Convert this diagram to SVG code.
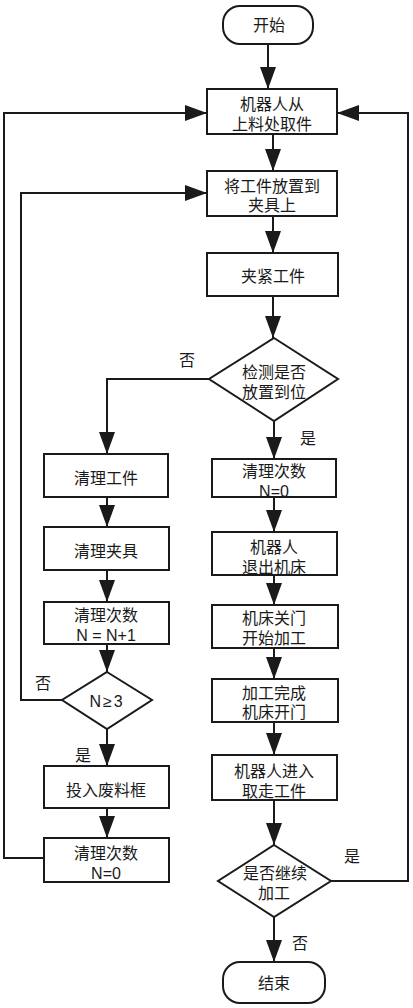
<svg xmlns="http://www.w3.org/2000/svg" width="413" height="1008" viewBox="0 0 413 1008">
<style>
.b{fill:#fff;stroke:#1a1a1a;stroke-width:2}
.c{fill:none;stroke:#1a1a1a;stroke-width:2}
text{font-family:"Liberation Sans","Noto Sans CJK SC",sans-serif;font-size:16px;fill:#1a1a1a;text-anchor:middle;dominant-baseline:central}
</style>
<defs>
<marker id="ah" viewBox="0 0 22 16" refX="22" refY="8" markerWidth="22" markerHeight="16" orient="auto" markerUnits="userSpaceOnUse">
<path d="M0,0 L22,8 L0,16 Z" fill="#1a1a1a"/>
</marker>
</defs>
<g id="connectors">
<path class="c" d="M268,44 V89" marker-end="url(#ah)"/>
<path class="c" d="M273,134 V171" marker-end="url(#ah)"/>
<path class="c" d="M273,216 V253" marker-end="url(#ah)"/>
<path class="c" d="M273,296 V338" marker-end="url(#ah)"/>
<path class="c" d="M209,379 H107 V454" marker-end="url(#ah)"/>
<path class="c" d="M274,421 V459" marker-end="url(#ah)"/>
<path class="c" d="M107,497 V527" marker-end="url(#ah)"/>
<path class="c" d="M107,570 V602" marker-end="url(#ah)"/>
<path class="c" d="M107,644 V672" marker-end="url(#ah)"/>
<path class="c" d="M107,729 V766" marker-end="url(#ah)"/>
<path class="c" d="M107,808 V838" marker-end="url(#ah)"/>
<path class="c" d="M43,858 H4 V113 H207" marker-end="url(#ah)"/>
<path class="c" d="M62,700 H21 V193 H207" marker-end="url(#ah)"/>
<path class="c" d="M274,497 V532" marker-end="url(#ah)"/>
<path class="c" d="M274,575 V605" marker-end="url(#ah)"/>
<path class="c" d="M274,648 V679" marker-end="url(#ah)"/>
<path class="c" d="M274,722 V755" marker-end="url(#ah)"/>
<path class="c" d="M274,800 V845" marker-end="url(#ah)"/>
<path class="c" d="M331,881 H408 V113 H337" marker-end="url(#ah)"/>
<path class="c" d="M274,917 V962" marker-end="url(#ah)"/>
<text x="187" y="360">否</text>
<text x="308" y="438">是</text>
<text x="43" y="683">否</text>
<text x="83" y="755">是</text>
<text x="352" y="856">是</text>
<text x="300" y="943">否</text>
</g>
<g id="start"><rect class="b" x="223" y="6" width="90" height="38" rx="17"/><text x="269" y="25">开始</text></g>
<g id="pick"><rect class="b" x="207" y="89" width="130" height="45"/><text x="272" y="104">机器人从</text><text x="272" y="124">上料处取件</text></g>
<g id="place"><rect class="b" x="207" y="171" width="130" height="45"/><text x="272" y="186">将工件放置到</text><text x="272" y="205">夹具上</text></g>
<g id="clamp"><rect class="b" x="207" y="253" width="131" height="43"/><text x="273" y="276">夹紧工件</text></g>
<g id="check"><path class="b" d="M274,338 L338,379 L274,421 L209,379 Z"/><text x="274" y="372">检测是否</text><text x="274" y="392">放置到位</text></g>
<g id="cleanpart"><rect class="b" x="44" y="454" width="124" height="43"/><text x="106" y="478">清理工件</text></g>
<g id="resetN1"><rect class="b" x="212" y="459" width="124" height="38"/><text x="274" y="471">清理次数</text><text x="274" y="491">N=0</text></g>
<g id="cleanfix"><rect class="b" x="44" y="527" width="125" height="43"/><text x="106" y="551">清理夹具</text></g>
<g id="incN"><rect class="b" x="44" y="602" width="125" height="42"/><text x="106" y="615">清理次数</text><text x="106" y="635">N = N+1</text></g>
<g id="ge3"><path class="b" d="M107,672 L152,700 L107,729 L62,700 Z"/><text x="107" y="701" letter-spacing="2">N≥3</text></g>
<g id="scrap"><rect class="b" x="44" y="766" width="125" height="42"/><text x="106" y="790">投入废料框</text></g>
<g id="resetN2"><rect class="b" x="44" y="838" width="125" height="44"/><text x="106" y="853">清理次数</text><text x="106" y="873">N=0</text></g>
<g id="exit"><rect class="b" x="212" y="532" width="125" height="43"/><text x="274" y="547">机器人</text><text x="274" y="567">退出机床</text></g>
<g id="machine"><rect class="b" x="212" y="605" width="126" height="43"/><text x="274" y="618">机床关门</text><text x="274" y="638">开始加工</text></g>
<g id="done"><rect class="b" x="212" y="679" width="126" height="43"/><text x="274" y="693">加工完成</text><text x="274" y="712">机床开门</text></g>
<g id="take"><rect class="b" x="212" y="755" width="125" height="45"/><text x="274" y="771">机器人进入</text><text x="274" y="791">取走工件</text></g>
<g id="continue"><path class="b" d="M274,845 L331,881 L274,917 L218,881 Z"/><text x="275" y="873">是否继续</text><text x="274" y="893">加工</text></g>
<g id="end"><rect class="b" x="223" y="962" width="102" height="41" rx="17"/><text x="274" y="983">结束</text></g>
</svg>
